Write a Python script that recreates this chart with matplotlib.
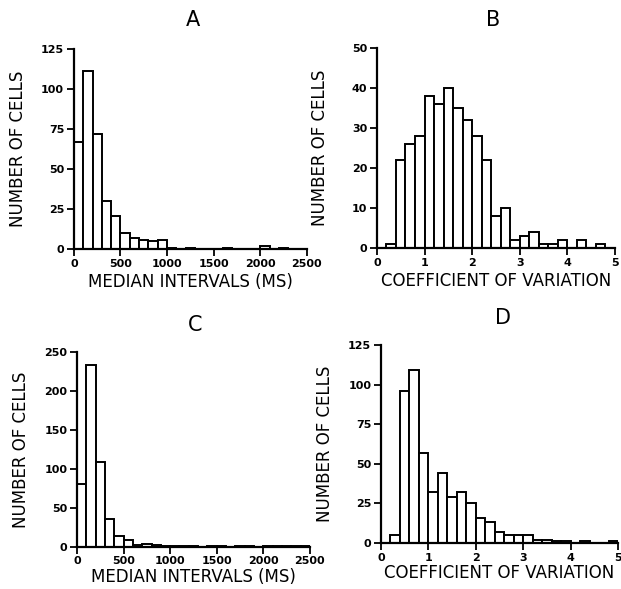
import matplotlib
matplotlib.use('Agg')
import matplotlib.pyplot as plt
import numpy as np

# A: median intervals, 100 ms bins
median_a = [67, 111, 72, 30, 21, 10, 7, 6, 5, 6, 1, 0, 1, 0, 0, 0, 1, 0, 0, 0, 2, 0, 1, 0, 0]
# B: coefficient of variation, 0.2 bins
cv_b = [0, 1, 22, 26, 28, 38, 36, 40, 35, 32, 28, 22, 8, 10, 2, 3, 4, 1, 1, 2, 0, 2, 0, 1, 0]
# C: median intervals, 100 ms bins
median_c = [81, 233, 109, 35, 14, 8, 2, 3, 2, 1, 1, 1, 1, 0, 1, 1, 0, 1, 1, 0, 1, 1, 1, 1, 1]
# D: coefficient of variation, 0.2 bins
cv_d = [0, 5, 96, 109, 57, 32, 44, 29, 32, 25, 16, 13, 7, 5, 5, 5, 2, 2, 1, 1, 0, 1, 0, 0, 1]

ms_ticks = [0, 500, 1000, 1500, 2000, 2500]
cv_ticks = [0, 1, 2, 3, 4, 5]


def draw_hist(ax, counts, width, xmax, xticks, yticks, xlabel, xpad=3):
    edges = np.arange(len(counts)) * width
    ax.bar(edges, counts, width=width, align='edge', facecolor='white',
           edgecolor='black', linewidth=1.4)
    ax.set_xlim(0, xmax)
    ax.set_ylim(0, yticks[-1])
    ax.set_xticks(xticks)
    ax.set_yticks(yticks)
    for side in ['top', 'right']:
        ax.spines[side].set_visible(False)
    for side in ['left', 'bottom']:
        ax.spines[side].set_linewidth(1.6)
    ax.tick_params(direction='out', length=5, width=1.3, labelsize=8, pad=2)
    for lab in ax.get_xticklabels() + ax.get_yticklabels():
        lab.set_fontweight('bold')
    ax.set_xlabel(xlabel, fontsize=12, labelpad=xpad)
    ax.set_ylabel('NUMBER OF CELLS', fontsize=12)
    ax.yaxis.set_label_coords(-0.2, 0.5)


fig = plt.figure(figsize=(6.21, 5.89), dpi=100)

ax_a = fig.add_axes([0.119, 0.577, 0.375, 0.340])
ax_b = fig.add_axes([0.607, 0.579, 0.383, 0.339])
ax_c = fig.add_axes([0.124, 0.072, 0.375, 0.330])
ax_d = fig.add_axes([0.6135, 0.078, 0.382, 0.336])

draw_hist(ax_a, median_a, 100, 2500, ms_ticks, [0, 25, 50, 75, 100, 125], 'MEDIAN INTERVALS (MS)')
draw_hist(ax_b, cv_b, 0.2, 5, cv_ticks, [0, 10, 20, 30, 40, 50], 'COEFFICIENT OF VARIATION')
draw_hist(ax_c, median_c, 100, 2500, ms_ticks, [0, 50, 100, 150, 200, 250], 'MEDIAN INTERVALS (MS)', xpad=1)
draw_hist(ax_d, cv_d, 0.2, 5, cv_ticks, [0, 25, 50, 75, 100, 125], 'COEFFICIENT OF VARIATION', xpad=1)

fig.text(0.311, 0.966, 'A', fontsize=15, ha='center', va='center')
fig.text(0.794, 0.966, 'B', fontsize=15, ha='center', va='center')
fig.text(0.314, 0.448, 'C', fontsize=15, ha='center', va='center')
fig.text(0.810, 0.460, 'D', fontsize=15, ha='center', va='center')

fig.savefig('out.png', dpi=100)
